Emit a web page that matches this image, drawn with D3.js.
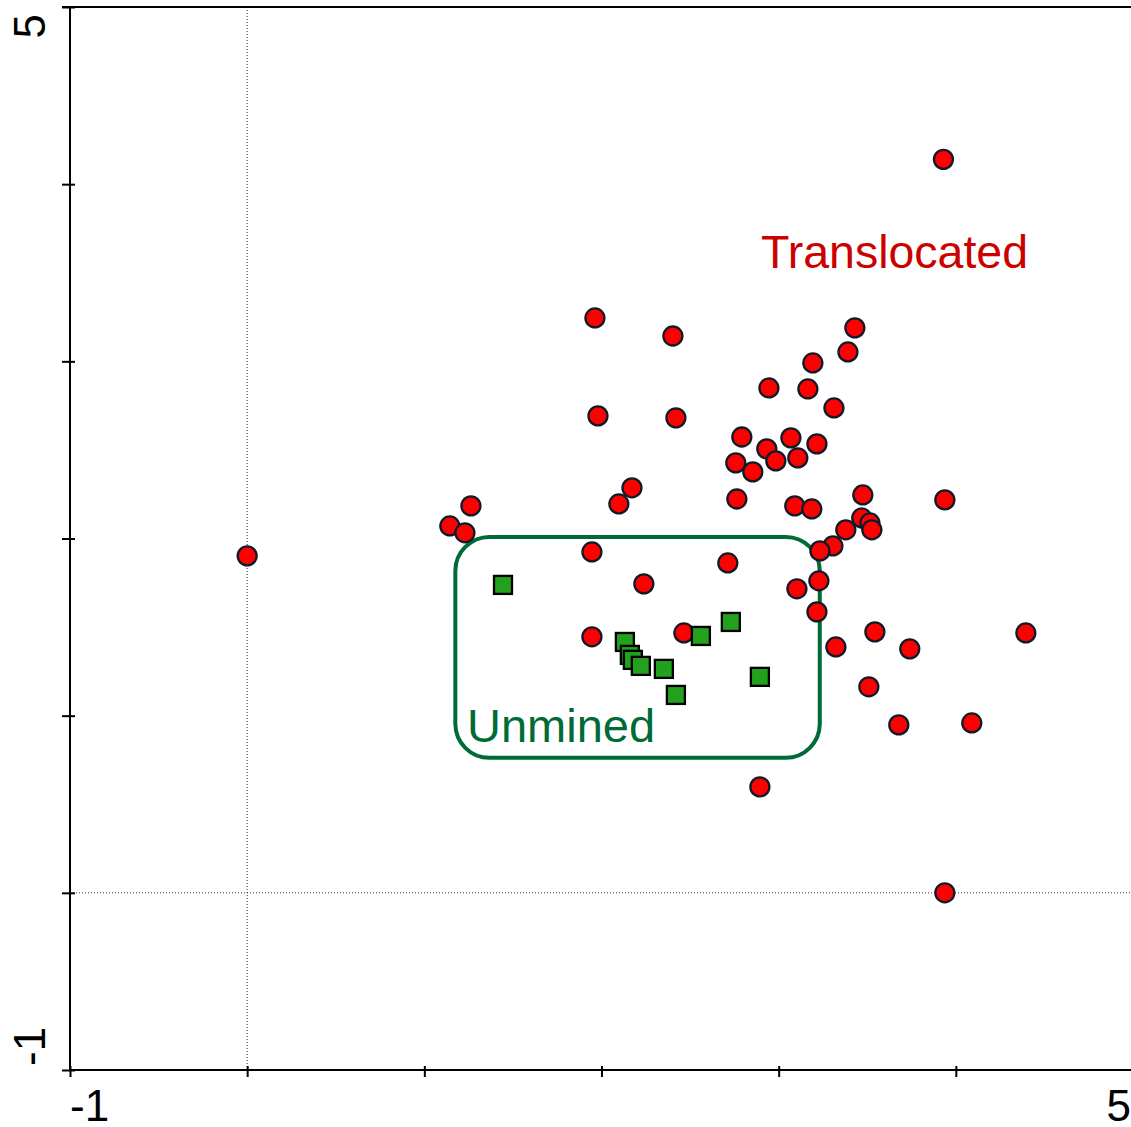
<!DOCTYPE html>
<html>
<head>
<meta charset="utf-8">
<script src="https://cdn.jsdelivr.net/npm/d3@7"></script>
<style>
  html, body { margin: 0; padding: 0; background: #fff; }
  svg { display: block; }
  text { font-family: "Liberation Sans", Arial, sans-serif; }
</style>
</head>
<body>
<svg id="chart" width="1131" height="1127"></svg>
<script>
// ---- data ----
const translocatedX = [3.93,1.963,2.403,3.43,3.391,3.193,2.945,3.165,3.312,1.98,2.42,2.792,3.069,3.216,2.933,2.984,3.108,2.758,2.854,2.172,2.098,2.764,3.091,3.187,3.475,3.938,3.469,3.515,3.526,3.379,3.306,3.233,1.263,1.144,1.229,0.0,1.946,2.713,2.239,3.227,3.103,3.216,1.946,2.465,3.543,4.395,3.323,3.74,3.509,3.678,4.09,2.894,3.938];
const translocatedY = [4.14,3.245,3.143,3.189,3.053,2.991,2.85,2.844,2.737,2.692,2.681,2.573,2.568,2.534,2.506,2.438,2.455,2.427,2.376,2.286,2.195,2.223,2.184,2.167,2.246,2.218,2.116,2.088,2.049,2.049,1.958,1.93,2.184,2.071,2.032,1.902,1.924,1.862,1.744,1.761,1.716,1.586,1.445,1.467,1.473,1.467,1.388,1.377,1.163,0.948,0.959,0.598,0.0];
const unminedX = [1.444,2.132,2.16,2.177,2.222,2.352,2.42,2.561,2.73,2.894];
const unminedY = [1.738,1.416,1.343,1.315,1.281,1.264,1.117,1.45,1.529,1.219];
const axisDomain = [-1, 5];
const tickValues = [-1, 0, 1, 2, 3, 4, 5];
const tickLabelValues = [-1, 5];
const tickLabels = ["-1", "5"];
const groupLabels = ["Translocated", "Unmined"];
const unminedBox = { x0: 1.175, x1: 3.232, y0: 0.762, y1: 2.009 };
const refLines = [0];

// ---- chart ----
const svg = d3.select("#chart");
const x = d3.scaleLinear().domain(axisDomain).range([70, 1133]);
const y = d3.scaleLinear().domain(axisDomain).range([1070, 7]);

// reference dotted lines
svg.selectAll(".vref").data(refLines).enter().append("line")
  .attr("x1", d => x(d)).attr("x2", d => x(d))
  .attr("y1", y(5)).attr("y2", y(-1))
  .attr("stroke", "#333").attr("stroke-width", 1).attr("stroke-dasharray", "1,2");
svg.selectAll(".href").data(refLines).enter().append("line")
  .attr("x1", x(-1)).attr("x2", x(5))
  .attr("y1", d => y(d)).attr("y2", d => y(d))
  .attr("stroke", "#333").attr("stroke-width", 1).attr("stroke-dasharray", "1,2");

// ticks
const gx = svg.append("g").attr("transform", "translate(0,1066)")
  .call(d3.axisBottom(x).tickValues(tickValues).tickSize(11).tickFormat(""));
gx.select(".domain").remove();
gx.selectAll(".tick line").attr("stroke", "#000").attr("stroke-width", 2);

const gy = svg.append("g").attr("transform", "translate(75,0)")
  .call(d3.axisLeft(y).tickValues(tickValues).tickSize(13).tickFormat(""));
gy.select(".domain").remove();
gy.selectAll(".tick line").attr("stroke", "#000").attr("stroke-width", 2);

// axis lines and top frame
svg.append("line").attr("x1", x(-1)).attr("x2", x(-1)).attr("y1", y(5) - 1).attr("y2", y(-1) + 1)
  .attr("stroke", "#000").attr("stroke-width", 2);
svg.append("line").attr("x1", x(-1) - 1).attr("x2", x(5)).attr("y1", y(-1)).attr("y2", y(-1))
  .attr("stroke", "#000").attr("stroke-width", 2);
svg.append("line").attr("x1", 62).attr("x2", x(5)).attr("y1", y(5)).attr("y2", y(5))
  .attr("stroke", "#000").attr("stroke-width", 2);

// tick labels
svg.selectAll(".xlab").data(tickLabelValues).enter().append("text")
  .attr("x", (d, i) => i === 0 ? x(d) : x(d) - 2)
  .attr("y", 1121)
  .attr("text-anchor", (d, i) => i === 0 ? "start" : "end")
  .attr("font-size", 44).attr("fill", "#000")
  .text((d, i) => tickLabels[i]);
svg.selectAll(".ylab").data(tickLabelValues).enter().append("text")
  .attr("transform", (d, i) => `translate(45,${i === 0 ? y(d) - 4 : y(d) + 7}) rotate(-90)`)
  .attr("text-anchor", (d, i) => i === 0 ? "start" : "end")
  .attr("font-size", 44).attr("fill", "#000")
  .text((d, i) => tickLabels[i]);

// unmined box
svg.append("rect")
  .attr("x", x(unminedBox.x0)).attr("y", y(unminedBox.y1))
  .attr("width", x(unminedBox.x1) - x(unminedBox.x0))
  .attr("height", y(unminedBox.y0) - y(unminedBox.y1))
  .attr("rx", 34).attr("ry", 34)
  .attr("fill", "none").attr("stroke", "#006b36").attr("stroke-width", 4);

// translocated points
svg.selectAll(".tp").data(translocatedX).enter().append("circle")
  .attr("cx", d => x(d)).attr("cy", (d, i) => y(translocatedY[i]))
  .attr("r", 9.5)
  .attr("fill", "#ff0000").attr("stroke", "#111a28").attr("stroke-width", 2.3);

// unmined points
svg.selectAll(".up").data(unminedX).enter().append("rect")
  .attr("x", d => x(d) - 9).attr("y", (d, i) => y(unminedY[i]) - 9)
  .attr("width", 18).attr("height", 18)
  .attr("fill", "#22a11c").attr("stroke", "#000").attr("stroke-width", 2.3);

// group labels
svg.append("text").attr("x", 761).attr("y", 268)
  .attr("font-size", 46.5).attr("fill", "#cc0000").text(groupLabels[0]);
svg.append("text").attr("x", 467).attr("y", 742)
  .attr("font-size", 47).attr("fill", "#006b36").text(groupLabels[1]);
</script>
</body>
</html>
